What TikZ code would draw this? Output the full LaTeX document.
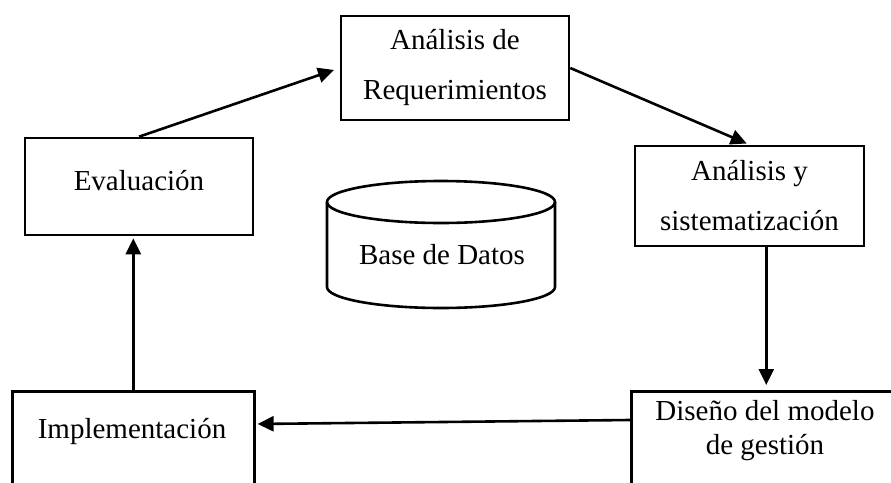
\documentclass[tikz,border=0pt]{standalone}
\usepackage{fontspec}
\setmainfont{Liberation Serif}
\usetikzlibrary{arrows.meta,positioning,calc}

\begin{document}
\begin{tikzpicture}[x=0.5pt,y=-0.5pt,line width=1.3pt,
  every node/.style={font=\fontsize{14.5}{17}\selectfont},
  box/.style={draw,align=center,inner sep=0pt},
  arr/.style={-{Triangle[length=8pt,width=7.5pt]}}]
  \useasboundingbox (0,0) rectangle (891,483);
  \clip (0,0) rectangle (891,483);
  % process boxes
  \node[box,minimum width=114pt,minimum height=52pt] (req) at (455,68) {Análisis de\\[8pt]Requerimientos};
  \node[box,minimum width=114pt,minimum height=48.5pt] (eval) at (139,186.5) {};
  \node (evaltxt) at (139,181) {Evaluación};
  \node[box,minimum width=114.5pt,minimum height=50pt] (anal) at (749.5,196) {Análisis y\\[8pt]sistematización};
  % bottom boxes (cut off by the page)
  \node[box,anchor=north west,minimum width=135pt,minimum height=60pt] (dis) at (630,390) {};
  \node[box,anchor=north west,minimum width=121pt,minimum height=60pt] (impl) at (11,390) {};
  \node[align=center] (distxt) at (765,431) {Diseño del modelo\\de gestión};
  \node (impltxt) at (132,432) {Implementación};
  % data base cylinder
  \draw (327,202) -- (327,287) arc[start angle=180,end angle=0,x radius=114,y radius=21] -- (555,202);
  \draw (441,202) ellipse[x radius=114,y radius=21];
  \node (db) at (442,255) {Base de Datos};
  % flow
  \draw[arr,shorten >=3pt] (eval.north) -- (req.west);
  \draw[arr,shorten >=1.5pt] (req.east) -- (anal.north);
  \draw[arr,shorten >=2.5pt] (anal.south -| dis.north) -- (dis.north);
  \draw[arr,shorten >=1pt] ([yshift=-15pt]dis.north west) -- ([yshift=-17pt]impl.north east);
  \draw[arr,shorten >=1pt] (impl.north) -- (impl.north |- eval.south);
\end{tikzpicture}
\end{document}
